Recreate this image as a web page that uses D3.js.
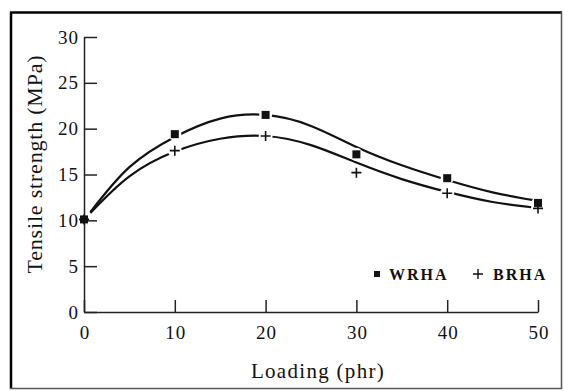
<!DOCTYPE html>
<html>
<head>
<meta charset="utf-8">
<script src="https://cdn.jsdelivr.net/npm/d3@7"></script>
<style>
  body { margin: 0; background: #fff; }
  text { font-family: "Liberation Serif", "DejaVu Serif", serif; fill: #111; }
</style>
</head>
<body>
<div id="chart"></div>
<script>
// measured points
var loading = [0, 10, 20, 30, 40, 50],
	wrha = [10.1, 19.4, 21.5, 17.2, 14.6, 11.9],
	brha = [10.1, 17.6, 19.2, 15.2, 12.95, 11.3];

// fitted curves
var fitX = [0.7, 5, 10, 15, 20, 25, 30, 35, 40, 45, 49.5],
	wrhaFit = [10.9, 15.8, 19.1, 21.1, 21.5, 20.3, 18.0, 16.0, 14.4, 13.05, 12.2],
	brhaFit = [10.8, 14.8, 17.5, 18.9, 19.2, 18.2, 16.3, 14.5, 13.1, 12.0, 11.4];

var xTicks = [0, 10, 20, 30, 40, 50],
	yTicks = [0, 5, 10, 15, 20, 25, 30];

var width = 564,
	height = 391,
	margin = {top: 37, right: 26, bottom: 79, left: 84};

var svg = d3.select("#chart").append("svg")
	.attr("width", width)
	.attr("height", height);

// frame
svg.append("line").attr("x1", 10).attr("y1", 12.5).attr("x2", 562).attr("y2", 12.5)
	.attr("stroke", "#000").attr("stroke-width", 2.5);
svg.append("line").attr("x1", 11).attr("y1", 12).attr("x2", 11).attr("y2", 389)
	.attr("stroke", "#000").attr("stroke-width", 2.5);
svg.append("line").attr("x1", 561.5).attr("y1", 12).attr("x2", 561.5).attr("y2", 389)
	.attr("stroke", "#555").attr("stroke-width", 1.5);
svg.append("line").attr("x1", 10).attr("y1", 388.5).attr("x2", 562).attr("y2", 388.5)
	.attr("stroke", "#555").attr("stroke-width", 1.5);

var g = svg.append("g")
	.attr("transform", "translate(" + margin.left + "," + margin.top + ")");

var w = width - margin.left - margin.right,
	h = height - margin.top - margin.bottom;

var x = d3.scaleLinear().domain([0, 50]).range([0, w]),
	y = d3.scaleLinear().domain([0, 30]).range([h, 0]);

// axes: ticks point inward
var xAxis = g.append("g")
	.attr("transform", "translate(0," + h + ")")
	.call(d3.axisBottom(x).tickValues(xTicks).tickSizeInner(-12).tickSizeOuter(0).tickPadding(17));
var yAxis = g.append("g")
	.call(d3.axisLeft(y).tickValues(yTicks).tickSizeInner(-13).tickSizeOuter(0).tickPadding(5));

[xAxis, yAxis].forEach(function(a) {
	a.select(".domain").attr("stroke", "#222").attr("stroke-width", 1.5);
	a.selectAll(".tick line").attr("stroke", "#222").attr("stroke-width", 1.5);
	a.selectAll(".tick text")
		.style("font-size", "19px")
		.style("letter-spacing", "1px")
		.attr("fill", "#111");
});
xAxis.selectAll(".tick text").attr("dy", "0.5em").attr("dx", "0.5px");

// axis titles
svg.append("text")
	.attr("x", 318).attr("y", 378)
	.attr("text-anchor", "middle")
	.style("font-size", "21px")
	.style("letter-spacing", "1.3px")
	.text("Loading (phr)");

svg.append("text")
	.attr("transform", "translate(42," + 164 + ") rotate(-90)")
	.attr("text-anchor", "middle")
	.style("font-size", "22px")
	.style("letter-spacing", "0.8px")
	.text("Tensile strength (MPa)");

// curves
var line = d3.line()
	.x(function(d) { return x(d[0]); })
	.y(function(d) { return y(d[1]); })
	.curve(d3.curveNatural);

[wrhaFit, brhaFit].forEach(function(s) {
	g.append("path")
		.datum(d3.zip(fitX, s))
		.attr("fill", "none")
		.attr("stroke", "#111")
		.attr("stroke-width", 2.2)
		.attr("d", line);
});

// white gaps under markers
var pts = d3.zip(loading, wrha).map(function(d) { return {x: d[0], y: d[1], t: "sq"}; })
	.concat(d3.zip(loading, brha).map(function(d) { return {x: d[0], y: d[1], t: "plus"}; }));

g.selectAll(".gap")
	.data(pts.filter(function(d) { return d.x > 0; }))
	.enter().append("circle")
	.attr("class", "gap")
	.attr("cx", function(d) { return x(d.x); })
	.attr("cy", function(d) { return y(d.y); })
	.attr("r", function(d) { return d.t === "sq" ? 6.5 : 7; })
	.attr("fill", "#fff");

// markers
g.selectAll(".sq")
	.data(pts.filter(function(d) { return d.t === "sq"; }))
	.enter().append("rect")
	.attr("class", "sq")
	.attr("x", function(d) { return x(d.x) - 4; })
	.attr("y", function(d) { return y(d.y) - 4; })
	.attr("width", 8)
	.attr("height", 8)
	.attr("fill", "#111");

g.selectAll(".plus")
	.data(pts.filter(function(d) { return d.t === "plus"; }))
	.enter().append("path")
	.attr("class", "plus")
	.attr("transform", function(d) { return "translate(" + x(d.x) + "," + y(d.y) + ")"; })
	.attr("d", "M-5,0H5M0,-5V5")
	.attr("stroke", "#111")
	.attr("stroke-width", 1.6);

// legend
var leg = svg.append("g").attr("transform", "translate(0,274)");
leg.append("rect").attr("x", 374).attr("y", -3).attr("width", 6).attr("height", 6).attr("fill", "#111");
leg.append("text").attr("x", 389).attr("y", 6)
	.style("font-size", "16px").style("font-weight", "bold").style("letter-spacing", "2px")
	.text("WRHA");
leg.append("path").attr("d", "M473,0H483M478,-5V5").attr("stroke", "#111").attr("stroke-width", 1.4);
leg.append("text").attr("x", 493).attr("y", 6)
	.style("font-size", "16px").style("font-weight", "bold").style("letter-spacing", "2px")
	.text("BRHA");
</script>
</body>
</html>
